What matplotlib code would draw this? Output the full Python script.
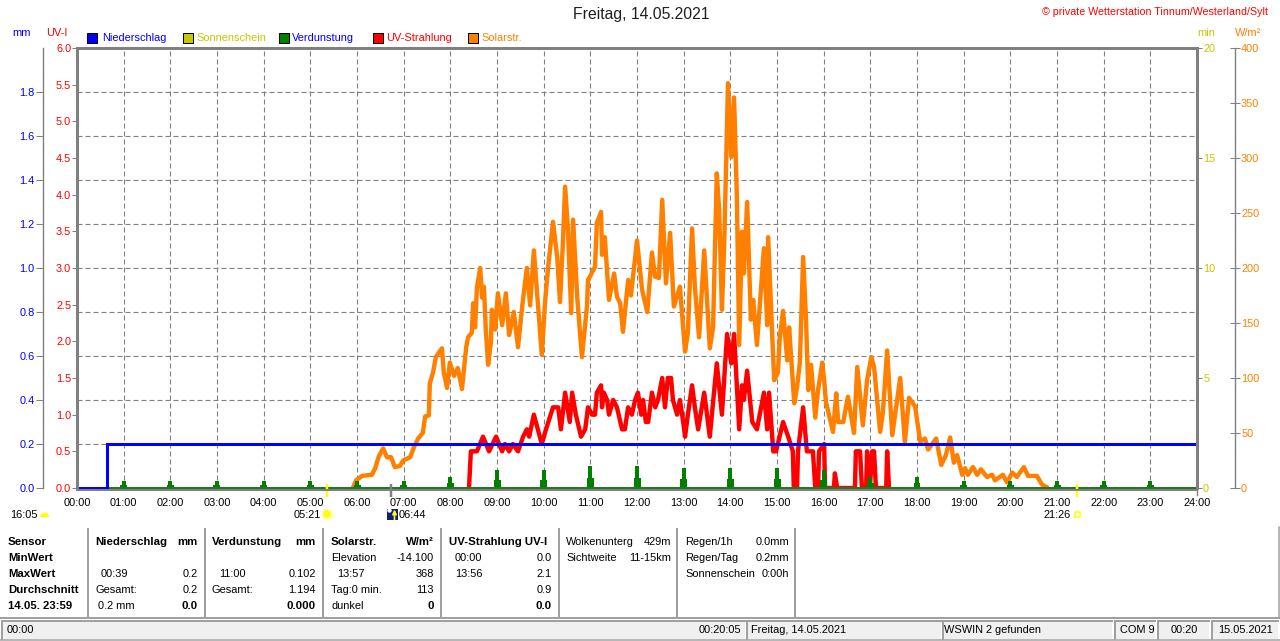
import matplotlib
matplotlib.use("Agg")
import matplotlib.pyplot as plt
from matplotlib.patches import Rectangle, Circle, Wedge

plt.rcParams['font.family'] = ['Liberation Sans', 'DejaVu Sans']

# ---------- data ----------
solar_h = [5.91,5.98,6.11,6.32,6.39,6.47,6.56,6.64,6.73,6.81,6.92,6.99,7.14,7.22,7.31,7.41,7.46,7.54,7.56,7.63,7.69,7.82,7.86,7.93,7.99,8.08,8.16,8.25,8.29,8.34,8.38,8.46,8.49,8.53,8.57,8.64,8.68,8.72,8.76,8.81,8.87,8.89,8.96,9.02,9.11,9.19,9.26,9.36,9.45,9.54,9.64,9.71,9.79,9.88,9.96,10.03,10.09,10.20,10.29,10.35,10.41,10.46,10.52,10.59,10.63,10.72,10.82,10.93,10.95,11.10,11.14,11.23,11.25,11.31,11.40,11.51,11.57,11.64,11.70,11.81,11.87,12.00,12.11,12.22,12.32,12.39,12.47,12.54,12.62,12.71,12.79,12.92,13.03,13.09,13.18,13.24,13.33,13.44,13.56,13.63,13.71,13.76,13.82,13.87,13.95,14.02,14.08,14.14,14.19,14.25,14.29,14.36,14.44,14.49,14.57,14.68,14.72,14.79,14.81,14.89,14.94,15.02,15.06,15.13,15.22,15.26,15.37,15.43,15.49,15.56,15.62,15.67,15.73,15.82,15.88,15.97,16.01,16.05,16.20,16.27,16.31,16.42,16.52,16.65,16.72,16.84,16.93,17.02,17.08,17.21,17.27,17.36,17.47,17.64,17.74,17.83,17.96,18.07,18.17,18.24,18.41,18.52,18.62,18.71,18.79,18.86,18.97,19.03,19.09,19.20,19.29,19.37,19.50,19.61,19.67,19.84,19.93,20.04,20.14,20.29,20.38,20.57,20.68,20.77]
solar_w = [0,7,11,12,18,29,36,28,28,19,20,25,28,37,45,50,65,66,95,105,119,127,105,91,114,102,109,90,107,128,137,141,168,146,182,200,173,183,144,112,133,162,144,177,148,177,139,160,128,165,200,166,216,165,121,169,198,242,210,169,221,274,235,159,244,173,119,166,189,201,241,251,212,228,171,195,174,168,142,189,175,225,180,160,214,192,191,262,186,232,165,183,124,141,236,183,137,216,127,146,286,253,162,223,368,301,355,265,130,233,195,260,153,171,130,195,218,148,228,146,98,105,137,161,116,146,77,92,114,210,155,89,112,64,89,114,98,78,51,86,60,60,83,50,110,57,98,119,110,51,69,125,48,100,42,82,74,42,45,35,45,21,30,46,23,30,12,18,12,19,12,17,10,12,7,12,5,14,10,19,11,11,3,1]

uv_h = [8.40,8.44,8.57,8.70,8.83,8.98,9.11,9.17,9.26,9.34,9.45,9.56,9.64,9.69,9.79,9.96,10.05,10.20,10.31,10.37,10.46,10.56,10.61,10.69,10.80,10.89,10.95,11.04,11.10,11.14,11.23,11.25,11.29,11.36,11.40,11.49,11.57,11.68,11.74,11.81,11.89,11.96,12.02,12.09,12.13,12.19,12.24,12.32,12.39,12.45,12.54,12.60,12.66,12.73,12.77,12.86,12.92,12.99,13.03,13.09,13.18,13.24,13.31,13.44,13.56,13.71,13.82,13.93,14.02,14.08,14.19,14.25,14.29,14.36,14.47,14.57,14.72,14.79,14.83,14.92,14.98,15.13,15.24,15.34,15.36,15.43,15.45,15.56,15.64,15.77,15.82,15.88,15.90,16.01,16.03,16.22,16.24,16.29,16.67,16.69,16.78,16.82,16.91,16.93,16.99,17.04,17.08,17.12,17.34,17.36,17.40]
uv_i = [0,0.5,0.5,0.7,0.5,0.7,0.5,0.6,0.5,0.6,0.5,0.7,0.8,0.7,1.0,0.6,0.8,1.1,1.1,0.8,1.3,0.9,1.3,1.0,0.7,0.8,1.1,1.0,1.0,1.3,1.4,1.1,1.3,1.2,1.0,1.2,1.1,0.8,0.8,1.1,1.0,1.2,1.3,1.0,1.2,0.9,0.9,1.3,1.1,1.2,1.5,1.1,1.5,1.5,1.2,1.0,1.2,0.9,0.7,1.0,1.4,1.1,0.8,1.3,0.7,1.7,1.0,2.1,1.7,2.1,0.8,1.4,1.2,1.6,0.9,0.8,1.3,0.8,1.3,0.5,0.5,0.9,0.7,0.5,0,0,0.5,1.1,0.5,0.5,0,0,0.5,0.6,0,0,0.2,0,0,0.5,0.5,0,0,0.5,0,0.5,0.5,0,0,0.5,0]

rain_h = [0, 0.65, 0.65, 24]
rain_mm = [0, 0, 0.2, 0.2]

evap_h = list(range(1, 24))
evap_mm = [0.03,0.03,0.03,0.03,0.03,0.03,0.03,0.05,0.08,0.08,0.102,0.10,0.09,0.09,0.09,0.08,0.05,0.05,0.03,0.03,0.03,0.03,0.03]

hour_ticks = list(range(0, 25))
hour_labels = [f"{h:02d}:00" for h in hour_ticks]
mm_ticks = [0.0,0.2,0.4,0.6,0.8,1.0,1.2,1.4,1.6,1.8]
uv_ticks = [0.0,0.5,1.0,1.5,2.0,2.5,3.0,3.5,4.0,4.5,5.0,5.5,6.0]
min_ticks = [0,5,10,15,20]
sol_ticks = [0,50,100,150,200,250,300,350,400]
sun_times = {"sunrise": 5 + 21/60, "moonrise": 6 + 44/60, "sunset": 21 + 26/60}

title = "Freitag, 14.05.2021"
credit = "© private Wetterstation Tinnum/Westerland/Sylt"
legend_labels = ["Niederschlag", "Sonnenschein", "Verdunstung", "UV-Strahlung", "Solarstr."]

sensor_col = ["Sensor", "MinWert", "MaxWert", "Durchschnitt", "14.05. 23:59"]
rain_names = ["Niederschlag", "", "00:39", "Gesamt:", "0.2 mm"]
rain_vals = ["mm", "", "0.2", "0.2", "0.0"]
evap_names = ["Verdunstung", "", "11:00", "Gesamt:", ""]
evap_vals = ["mm", "", "0.102", "1.194", "0.000"]
sol_names = ["Solarstr.", "Elevation", "13:57", "Tag:0 min.", "dunkel"]
sol_vals = ["W/m²", "-14.100", "368", "113", "0"]
uv_names = ["UV-Strahlung UV-I", "00:00", "13:56", "", ""]
uv_vals = ["", "0.0", "2.1", "0.9", "0.0"]
cloud_names = ["Wolkenunterg", "Sichtweite"]
cloud_vals = ["429m", "11-15km"]
reg_names = ["Regen/1h", "Regen/Tag", "Sonnenschein"]
reg_vals = ["0.0mm", "0.2mm", "0:00h"]
status_texts = ["00:00", "00:20:05", "Freitag, 14.05.2021", "WSWIN 2 gefunden", "COM 9", "00:20", "15.05.2021"]

# ---------- layout ----------
W, H = 1280, 641
BLUE, YEL, GRN, RED, ORG = "#0000ff", "#c8c800", "#008000", "#ff0000", "#ff8000"
GREY = "#808080"
px = 0.72
FS = 7.9
BFS = 8.2

fig = plt.figure(figsize=(W/100, H/100), dpi=100, facecolor="white")
rect = [77/W, 1 - 488/H, 1120/W, 440/H]

base = fig.add_axes(rect, zorder=0)
base.set_xlim(0, 24); base.set_ylim(0, 2)
base.set_xticks(hour_ticks); base.set_xticklabels(hour_labels, fontsize=FS)
base.set_yticks(mm_ticks); base.tick_params(axis="y", left=False, labelleft=False)
base.tick_params(axis="x", length=0, pad=7.5)
base.grid(True, color=GREY, lw=0.8, linestyle=(0, (4.5, 2.7)))
base.set_axisbelow(True)
for s in base.spines.values():
    s.set_visible(False)

def twin(z):
    a = fig.add_axes(rect, zorder=z, sharex=base)
    a.patch.set_alpha(0)
    for s in a.spines.values():
        s.set_visible(False)
    a.tick_params(axis="x", bottom=False, labelbottom=False)
    return a

ax_sol = twin(1)
ax_sol.set_ylim(0, 400)
ax_sol.plot(solar_h, solar_w, color=ORG, lw=4.4*px, solid_joinstyle="round")
ax_sol.yaxis.tick_right(); ax_sol.set_yticks(sol_ticks)
ax_sol.spines["right"].set_visible(True)
ax_sol.spines["right"].set_position(("outward", 38*px))
ax_sol.spines["right"].set_color(GREY); ax_sol.spines["right"].set_linewidth(1.4*px)
ax_sol.tick_params(axis="y", direction="inout", length=10*px, width=1*px, color=GREY,
                   labelcolor=ORG, labelsize=FS, pad=0.8)

ax_uv = twin(2)
ax_uv.set_ylim(0, 6)
ax_uv.plot(uv_h, uv_i, color=RED, lw=4.4*px, solid_joinstyle="round")
ax_uv.set_yticks(uv_ticks); ax_uv.set_yticklabels([f"{v:.1f}" for v in uv_ticks])
ax_uv.tick_params(axis="y", length=5*px, width=1*px, color=GREY, labelcolor=RED, labelsize=FS, pad=0.5)

ax_min = twin(3)
ax_min.set_ylim(0, 20)
ax_min.yaxis.tick_right(); ax_min.set_yticks(min_ticks)
ax_min.tick_params(axis="y", length=5*px, width=1*px, color=GREY, labelcolor=YEL, labelsize=FS, pad=0.8)

ax_mm = twin(4)
ax_mm.set_ylim(0, 2)
ax_mm.bar(evap_h, evap_mm, width=0.085, color=GRN, linewidth=0)
ax_mm.bar(evap_h, [v*0.45 for v in evap_mm], width=0.15, color=GRN, linewidth=0)
ax_mm.plot([0.65, 24], [0.002, 0.002], color="#1f7a1f", lw=2*px, clip_on=False, solid_capstyle="butt")
ax_mm.plot(rain_h, rain_mm, color=BLUE, lw=3*px, clip_on=False, solid_joinstyle="miter", solid_capstyle="butt")
ax_mm.set_yticks(mm_ticks); ax_mm.set_yticklabels([f"{v:.1f}" for v in mm_ticks])
ax_mm.spines["left"].set_visible(True)
ax_mm.spines["left"].set_position(("outward", 34*px))
ax_mm.spines["left"].set_color(GREY); ax_mm.spines["left"].set_linewidth(1.4*px)
ax_mm.tick_params(axis="y", length=7*px, width=1*px, color=GREY, labelcolor=BLUE, labelsize=FS, pad=1)

# plot frame on a top axes
frame = twin(5)
frame.set_yticks([])
for side, lw in (("top", 3), ("left", 3), ("right", 3), ("bottom", 2)):
    frame.spines[side].set_visible(True)
    frame.spines[side].set_color(GREY)
    frame.spines[side].set_linewidth(lw*px)
frame.spines["bottom"].set_position(("outward", 1.5*px))

# rise/set marker ticks
xt = frame.get_xaxis_transform()
for key, col_ in (("sunrise", "#ffff00"), ("moonrise", GREY), ("sunset", "#ffff00")):
    frame.plot([sun_times[key]]*2, [0.009, -0.0205], transform=xt, color=col_, lw=2.5*px,
               clip_on=False, solid_capstyle="butt")
frame.plot([24, 24], [0, -0.016], transform=xt, color=GREY, lw=1.4*px, clip_on=False)

# overlay in image pixels
ov = fig.add_axes([0, 0, 1, 1], zorder=10)
ov.set_xlim(0, W); ov.set_ylim(H, 0); ov.axis("off")

def T(x, y, s, c="black", ha="left", bold=False, fs=None):
    size = fs if fs else (BFS if bold else FS)
    ov.text(x, y, s, color=c, ha=ha, va="center", fontsize=size, fontweight="bold" if bold else "normal")

ov.text(641, 15, title, ha="center", va="center", fontsize=11.3, color="#202020")
T(1268, 12, credit, RED, ha="right", fs=7.7)
T(22, 33, "mm", BLUE, ha="center")
T(57, 33, "UV-I", RED, ha="center")
T(1206, 33, "min", YEL, ha="center")
T(1248, 33, "W/m²", ORG, ha="center")

leg_x = [87, 183, 279, 373, 468]
leg_tx = [102, 196, 292, 386, 481]
leg_fill = [BLUE, YEL, GRN, RED, ORG]
leg_txt = [BLUE, YEL, BLUE, RED, ORG]
for x, tx, f, c, s in zip(leg_x, leg_tx, leg_fill, leg_txt, legend_labels):
    ov.add_patch(Rectangle((x, 33), 10, 10, facecolor=f, edgecolor="black", lw=1*px))
    T(tx, 38, s, c)

# sun / moon annotations
T(10, 514.5, "16:05")
ov.add_patch(Wedge((44.5, 517), 4.5, 180, 360, facecolor="#ffff00", edgecolor="none"))
T(294, 514.5, "05:21")
ov.scatter([327], [514], s=70, marker=(12, 1, 0), color="#ffff80", linewidths=0.7)
ov.add_patch(Circle((327, 514), 3.6, facecolor="#ffff00", edgecolor="none"))
ov.add_patch(Rectangle((387, 509), 11, 11, facecolor="#10207a", edgecolor="none"))
ov.add_patch(Circle((389.5, 510.5), 2.2, facecolor="white", edgecolor="none"))
ov.annotate("", xy=(394.5, 509.5), xytext=(394.5, 520),
            arrowprops=dict(arrowstyle="-|>", color="#ffff00", lw=1.2, mutation_scale=6, shrinkA=0, shrinkB=0))
T(399, 514.5, "06:44")
T(1044, 514.5, "21:26")
ov.add_patch(Rectangle((1074.5, 511.5), 5, 5, facecolor="white", edgecolor="#ffff00", lw=1.5*px))

# table
rows = [542, 558, 574, 590, 606]
def col(xs, strs, ha="left", bold=()):
    if not isinstance(xs, (list, tuple)):
        xs = [xs] * len(strs)
    for i, s in enumerate(strs):
        if s:
            T(xs[i], rows[i], s, ha=ha, bold=i in bold)

col(8, sensor_col, bold=(0, 1, 2, 3, 4))
col([95, 95, 101, 95, 98], rain_names, bold=(0,))
col(198, rain_vals, ha="right", bold=(0, 4))
col([212, 212, 219, 212, 212], evap_names, bold=(0,))
col(316, evap_vals, ha="right", bold=(0, 4))
col([331, 331, 337, 331, 331], sol_names, bold=(0,))
col(434, sol_vals, ha="right", bold=(0, 4))
col([449, 455, 455, 455, 455], uv_names, bold=(0,))
col(552, uv_vals, ha="right", bold=(4,))
col(566, cloud_names); col(671, cloud_vals, ha="right")
col(685, reg_names); col(789, reg_vals, ha="right")

for x in (88, 205, 323, 441, 559, 677, 795):
    ov.plot([x, x], [528, 617], color="#a0a0a0", lw=2*px, solid_capstyle="butt")
ov.plot([1279, 1279], [527, 618], color="#a0a0a0", lw=1.5*px)

# status bar
ov.plot([0, W], [618, 618], color="#a0a0a0", lw=2*px)
ov.plot([0, W], [640, 640], color="#a0a0a0", lw=1.5*px)
panels = [(2, 745), (747, 941), (943, 1112), (1115, 1155), (1158, 1209), (1212, 1278)]
for a, b in panels:
    ov.add_patch(Rectangle((a, 620), b - a, 18.5, facecolor="#f0f0f0", edgecolor="none"))
    ov.plot([a, a, b], [638.5, 620.5, 620.5], color="#a0a0a0", lw=2*px, solid_joinstyle="miter")
T(7, 630, status_texts[0])
T(741, 630, status_texts[1], ha="right")
T(751, 630, status_texts[2])
T(944, 630, status_texts[3])
T(1120, 630, status_texts[4])
T(1171, 630, status_texts[5])
T(1218, 630, status_texts[6])

fig.savefig("out.png", dpi=100, facecolor="white")
